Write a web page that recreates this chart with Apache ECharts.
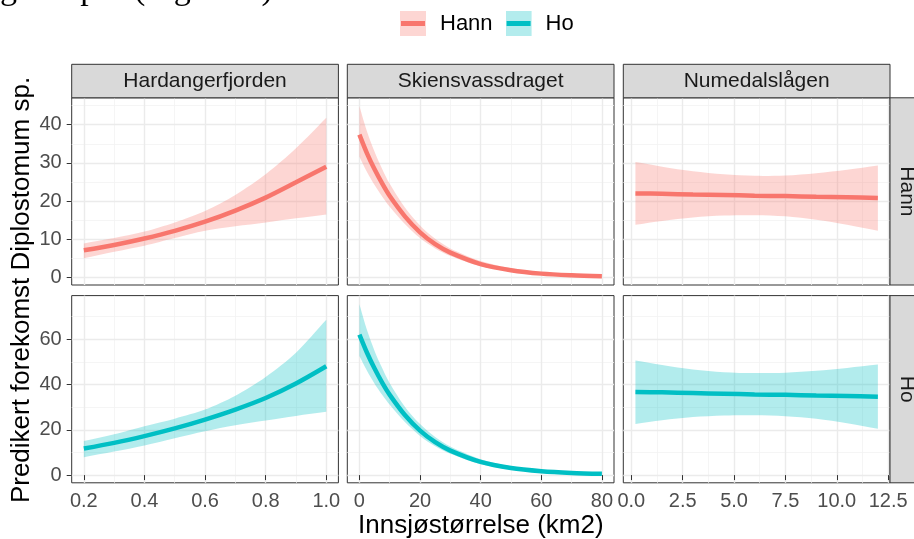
<!DOCTYPE html>
<html><head><meta charset="utf-8">
<script src="https://cdn.jsdelivr.net/npm/echarts@6/dist/echarts.min.js"></script>
<style>html,body{margin:0;padding:0;background:#fff}#c{width:914px;height:539px}</style>
</head><body><div id="c"></div>
<script>
// ---------- data ----------
const columns = ['Hardangerfjorden', 'Skiensvassdraget', 'Numedalslågen'];
const rows = ['Hann', 'Ho'];
const seriesColors = ['#F8766D', '#00BFC4'];
const bandColors = ['rgba(248,118,109,0.3)', 'rgba(0,191,196,0.3)'];

const hardX = [0.2, 0.3, 0.4, 0.5, 0.6, 0.7, 0.8, 0.9, 1.0];
const hardHannFit = [7.1, 8.5, 10.2, 12.2, 14.6, 17.5, 20.9, 24.9, 29.0];
const hardHannLo  = [5.0, 6.7, 8.3, 10.3, 12.2, 13.4, 14.4, 15.5, 16.5];
const hardHannHi  = [8.9, 10.3, 12.0, 14.4, 17.4, 21.6, 27.0, 33.8, 41.8];
const hardHoFit = [11.7, 14.2, 17.2, 20.6, 24.5, 28.9, 34.0, 40.4, 48.0];
const hardHoLo  = [7.9, 10.4, 13.1, 16.3, 19.4, 22.0, 24.1, 26.1, 27.9];
const hardHoHi  = [15.0, 18.0, 21.6, 24.9, 28.9, 35.0, 43.3, 54.0, 68.5];

const skienX = [0, 2.5, 5, 7.5, 10, 15, 20, 25, 30, 40, 50, 60, 70, 80];
const skienHannFit = [37.4, 32.5, 28.3, 24.6, 21.3, 16.0, 11.8, 8.7, 6.5, 3.5, 1.9, 1.0, 0.57, 0.33];
const skienHannLo  = [31.6, 27.6, 24.2, 21.2, 18.5, 14.0, 10.3, 7.6, 5.6, 2.9, 1.5, 0.8, 0.42, 0.22];
const skienHannHi  = [44.8, 38.2, 32.9, 28.4, 24.5, 18.3, 13.6, 10.1, 7.6, 4.3, 2.4, 1.35, 0.8, 0.5];
const skienHoFit = [62.0, 54.0, 47.0, 40.8, 35.4, 26.5, 19.6, 14.5, 10.8, 5.8, 3.1, 1.7, 0.95, 0.55];
const skienHoLo  = [52.5, 46.0, 40.3, 35.4, 31.0, 23.4, 17.3, 12.7, 9.4, 4.8, 2.5, 1.3, 0.7, 0.38];
const skienHoHi  = [75.4, 64.0, 54.8, 47.2, 40.5, 30.2, 22.5, 16.8, 12.6, 7.0, 3.9, 2.2, 1.3, 0.8];

const numX = [0.2, 1.5, 3, 4.5, 6, 7.5, 9, 10.5, 12];
const numHannFit = [22.0, 21.9, 21.7, 21.6, 21.4, 21.3, 21.1, 21.0, 20.8];
const numHannLo  = [13.8, 14.8, 15.7, 16.2, 16.3, 16.0, 15.1, 13.8, 12.2];
const numHannHi  = [30.2, 29.0, 27.8, 27.0, 26.6, 26.7, 27.3, 28.2, 29.3];
const numHoFit = [36.7, 36.5, 36.2, 35.9, 35.6, 35.4, 35.1, 34.9, 34.6];
const numHoLo  = [22.6, 24.2, 25.6, 26.3, 26.4, 26.0, 24.9, 22.9, 20.4];
const numHoHi  = [50.6, 48.6, 46.6, 45.4, 45.0, 45.2, 46.0, 47.3, 48.8];

const xTicks = [[0.2, 0.4, 0.6, 0.8, 1.0], [0, 20, 40, 60, 80], [0, 2.5, 5, 7.5, 10, 12.5]];
const xMinorTicks = [[0.3, 0.5, 0.7, 0.9], [10, 30, 50, 70], [1.25, 3.75, 6.25, 8.75, 11.25]];
const yTicks = [[0, 10, 20, 30, 40], [0, 20, 40, 60]];
const yMinorTicks = [[5, 15, 25, 35, 45], [10, 30, 50, 70]];
const xRanges = [[0.16, 1.04], [-4, 84], [-0.39, 12.59]];
const yRanges = [[-1.98, 47.03], [-3.4, 79.2]];

const xTitle = 'Innsjøstørrelse (km2)';
const yTitle = 'Predikert forekomst Diplostomum sp.';
const pageText = 'ge utsplit (Figur 20).';

const panels = [
  [ {x: hardX, fit: hardHannFit, lo: hardHannLo, hi: hardHannHi},
    {x: skienX, fit: skienHannFit, lo: skienHannLo, hi: skienHannHi},
    {x: numX, fit: numHannFit, lo: numHannLo, hi: numHannHi} ],
  [ {x: hardX, fit: hardHoFit, lo: hardHoLo, hi: hardHoHi},
    {x: skienX, fit: skienHoFit, lo: skienHoLo, hi: skienHoHi},
    {x: numX, fit: numHoFit, lo: numHoLo, hi: numHoHi} ]
];

// ---------- layout ----------
const FONT = '"Liberation Sans", Arial, sans-serif';
const COL_L = [71.7, 347.3, 623.3], COL_W = 266.7;
const ROW_T = [97.8, 295.6], ROW_H = 187.2;
const STRIP = 33.5;

const fmt = [v => v.toFixed(1), v => String(v), v => v.toFixed(1)];

const grids = [], xAxes = [], yAxes = [], series = [];
const pair = (xs, ys) => xs.map((x, i) => [x, ys[i]]);

function ribbonRenderer(p, fill) {
  return function (params, api) {
    if (params.dataIndex !== 0) return null;
    const top = p.x.map((x, i) => api.coord([x, p.hi[i]]));
    const bot = p.x.map((x, i) => api.coord([x, p.lo[i]])).reverse();
    const n = top.length;
    const pts = [...top, top[n - 1], bot[0], ...bot, bot[n - 1], top[0]];
    return {type: 'polygon', shape: {points: pts, smooth: 0.3}, style: {fill: fill, stroke: null}};
  };
}

for (let r = 0; r < 2; r++) {
  for (let c = 0; c < 3; c++) {
    const g = r * 3 + c;
    grids.push({left: COL_L[c], top: ROW_T[r], width: COL_W, height: ROW_H,
      containLabel: false, outerBoundsMode: 'none',
      show: true, backgroundColor: '#fff', borderColor: '#333', borderWidth: 1});
    const bottom = r === 1, leftCol = c === 0;
    xAxes.push({type: 'value', gridIndex: g, min: xRanges[c][0], max: xRanges[c][1],
      axisLine: {show: false},
      axisTick: {show: bottom, customValues: xTicks[c], length: 5, lineStyle: {color: '#333', width: 1}},
      axisLabel: {show: bottom, customValues: xTicks[c], formatter: fmt[c], color: '#4D4D4D',
        fontSize: 20, fontFamily: FONT, margin: 9},
      splitLine: {show: true, lineStyle: {color: '#EBEBEB', width: 1.4}}, z: 1});
    xAxes.push({type: 'value', gridIndex: g, min: xRanges[c][0], max: xRanges[c][1],
      axisLine: {show: false},
      axisTick: {show: false, customValues: xMinorTicks[c]},
      axisLabel: {show: false, customValues: xMinorTicks[c]},
      splitLine: {show: true, lineStyle: {color: '#F3F3F3', width: 0.8}}, z: 0});
    yAxes.push({type: 'value', gridIndex: g, min: yRanges[r][0], max: yRanges[r][1],
      axisLine: {show: false},
      axisTick: {show: leftCol, customValues: yTicks[r], length: 5, lineStyle: {color: '#333', width: 1}},
      axisLabel: {show: leftCol, customValues: yTicks[r], color: '#4D4D4D',
        fontSize: 20, fontFamily: FONT, margin: 10},
      splitLine: {show: true, lineStyle: {color: '#EBEBEB', width: 1.4}}, z: 1});
    yAxes.push({type: 'value', gridIndex: g, min: yRanges[r][0], max: yRanges[r][1],
      axisLine: {show: false},
      axisTick: {show: false, customValues: yMinorTicks[r]},
      axisLabel: {show: false, customValues: yMinorTicks[r]},
      splitLine: {show: true, lineStyle: {color: '#F3F3F3', width: 0.8}}, z: 0});

    const p = panels[r][c];
    const col = seriesColors[r];
    series.push({type: 'custom', name: rows[r] + ' band ' + g, xAxisIndex: 2 * g, yAxisIndex: 2 * g,
      silent: true, animation: false, z: 2, clip: true,
      data: p.x.map((x, i) => [x, p.lo[i], p.hi[i]]),
      encode: {x: 0, y: [1, 2]},
      renderItem: ribbonRenderer(p, bandColors[r])});
    series.push({type: 'line', name: rows[r], xAxisIndex: 2 * g, yAxisIndex: 2 * g, symbol: 'none',
      smooth: 0.3, silent: true, animation: false, data: pair(p.x, p.fit),
      lineStyle: {color: col, width: 4.5}, itemStyle: {color: col}, z: 3});
  }
}

function legendIcon(fill, line) {
  const svg = "<svg xmlns='http://www.w3.org/2000/svg' width='35' height='25' viewBox='0 0 35 25'>" +
    "<rect x='0' y='0' width='26' height='25' fill='" + fill + "'/>" +
    "<rect x='1' y='10' width='24' height='5' fill='" + line + "'/></svg>";
  return 'image://data:image/svg+xml;charset=utf-8,' + encodeURIComponent(svg);
}

const graphics = [];
graphics.push({type: 'text', left: 0, top: -27, z: 100,
  style: {text: pageText, font: '34px "Liberation Serif", "Times New Roman", serif', fill: '#000'}});
for (let c = 0; c < 3; c++) {
  graphics.push({type: 'rect', z: 50, shape: {x: COL_L[c], y: ROW_T[0] - STRIP, width: COL_W, height: STRIP},
    style: {fill: '#D9D9D9', stroke: '#333', lineWidth: 1}});
  graphics.push({type: 'text', z: 51, x: COL_L[c] + COL_W / 2, y: ROW_T[0] - STRIP / 2,
    style: {text: columns[c], fontSize: 21, fontFamily: FONT, fill: '#1A1A1A', align: 'center', verticalAlign: 'middle'}});
}
const RX = COL_L[2] + COL_W;
for (let r = 0; r < 2; r++) {
  graphics.push({type: 'rect', z: 50, shape: {x: RX, y: ROW_T[r], width: STRIP, height: ROW_H},
    style: {fill: '#D9D9D9', stroke: '#333', lineWidth: 1}});
  graphics.push({type: 'text', z: 51, x: RX + STRIP / 2, y: ROW_T[r] + ROW_H / 2, rotation: -Math.PI / 2,
    style: {text: rows[r], fontSize: 21, fontFamily: FONT, fill: '#1A1A1A', align: 'center', verticalAlign: 'middle'}});
}
graphics.push({type: 'text', z: 51, x: (COL_L[0] + RX) / 2, y: 526,
  style: {text: xTitle, fontSize: 26, fontFamily: FONT, fill: '#000', align: 'center', verticalAlign: 'middle'}});
graphics.push({type: 'text', z: 51, x: 22, y: 290, rotation: Math.PI / 2,
  style: {text: yTitle, fontSize: 26, fontFamily: FONT, fill: '#000', align: 'center', verticalAlign: 'middle'}});

const chart = echarts.init(document.getElementById('c'), null, {renderer: 'canvas'});
chart.setOption({
  animation: false,
  backgroundColor: '#fff',
  grid: grids,
  xAxis: xAxes,
  yAxis: yAxes,
  legend: {
    left: 400, top: 11, padding: 0, itemWidth: 35, itemHeight: 25, itemGap: 13, selectedMode: false,
    textStyle: {fontSize: 22, color: '#000', fontFamily: FONT},
    data: [{name: 'Hann', icon: legendIcon('#FDD6D3', '#F8766D')},
           {name: 'Ho', icon: legendIcon('#B3ECED', '#00BFC4')}]
  },
  series: series,
  graphic: graphics
});
</script></body></html>
